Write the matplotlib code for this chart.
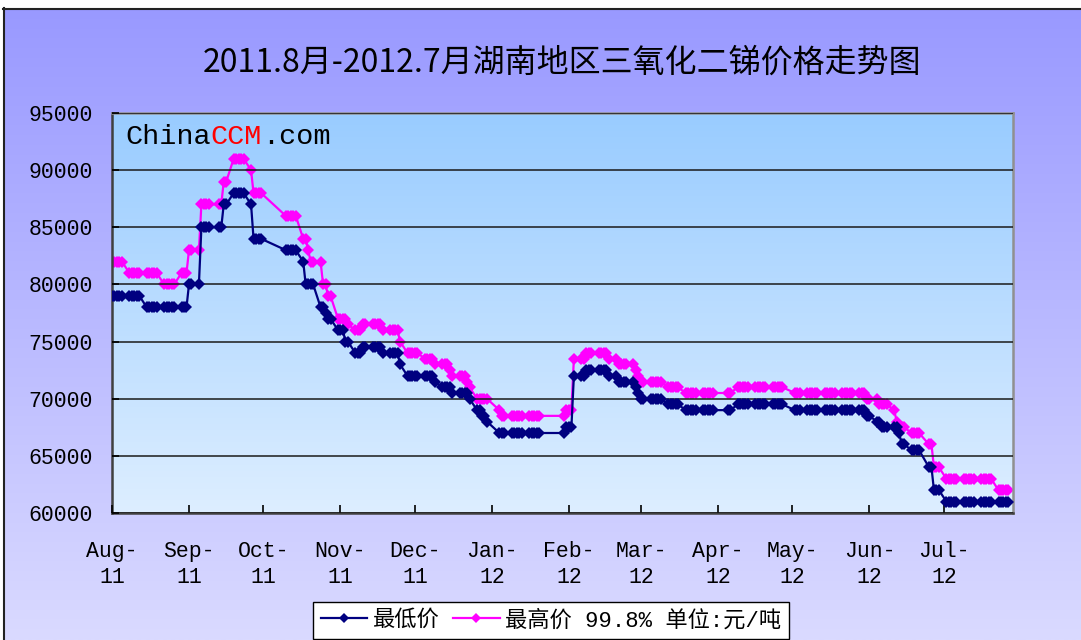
import numpy as np
import pandas as pd
import matplotlib
matplotlib.use("Agg")
import matplotlib.pyplot as plt
import matplotlib.dates as mdates
from matplotlib.patches import Rectangle
import datetime as dt

# ---------------- data ----------------
title = "2011.8月-2012.7月湖南地区三氧化二锑价格走势图"
series_names = ["最低价", "最高价 99.8% 单位:元/吨"]
month_labels = ["Aug-\n11", "Sep-\n11", "Oct-\n11", "Nov-\n11", "Dec-\n11", "Jan-\n12",
                "Feb-\n12", "Mar-\n12", "Apr-\n12", "May-\n12", "Jun-\n12", "Jul-\n12"]
y_ticks = [60000, 65000, 70000, 75000, 80000, 85000, 90000, 95000]

# non-trading holidays (no quotes)
holidays = ["2011-09-12", "2011-10-03", "2011-10-04", "2011-10-05", "2011-10-06", "2011-10-07",
            "2012-01-02", "2012-01-03", "2012-01-23", "2012-01-24", "2012-01-25", "2012-01-26",
            "2012-01-27", "2012-04-02", "2012-04-03", "2012-04-04", "2012-04-30", "2012-05-01",
            "2012-06-22"]

# price in effect from each date (step series)
low_dates = ["2011-08-01", "2011-08-15", "2011-09-01", "2011-09-06", "2011-09-15", "2011-09-19",
             "2011-09-26", "2011-09-27", "2011-10-10", "2011-10-17", "2011-10-18", "2011-10-24",
             "2011-10-26", "2011-10-27", "2011-10-31", "2011-11-03", "2011-11-07", "2011-11-10",
             "2011-11-18", "2011-11-25", "2011-11-28", "2011-12-09", "2011-12-12", "2011-12-16",
             "2011-12-23", "2011-12-26", "2011-12-28", "2011-12-30", "2012-01-04", "2012-01-31",
             "2012-02-03", "2012-02-08", "2012-02-17", "2012-02-21", "2012-02-28", "2012-02-29",
             "2012-03-01", "2012-03-12", "2012-03-19", "2012-04-09", "2012-05-02", "2012-05-31",
             "2012-06-04", "2012-06-06", "2012-06-13", "2012-06-14", "2012-06-18", "2012-06-25",
             "2012-06-27", "2012-07-02"]
low_values = [79000, 78000, 80000, 85000, 87000, 88000,
              87000, 84000, 83000, 82000, 80000, 78000,
              77500, 77000, 76000, 75000, 74000, 74500,
              74000, 73000, 72000, 71500, 71000, 70500,
              70000, 69000, 68500, 68000, 67000, 67500,
              72000, 72500, 72000, 71500, 71000, 70500,
              70000, 69500, 69000, 69500, 69000, 68500,
              68000, 67500, 67000, 66000, 65500, 64000,
              62000, 61000]

high_dates = ["2011-08-01", "2011-08-08", "2011-08-22", "2011-08-29", "2011-09-01", "2011-09-06",
              "2011-09-15", "2011-09-19", "2011-09-26", "2011-09-27", "2011-10-10", "2011-10-17",
              "2011-10-19", "2011-10-20", "2011-10-25", "2011-10-27", "2011-10-31", "2011-11-04",
              "2011-11-07", "2011-11-10", "2011-11-18", "2011-11-25", "2011-11-28", "2011-12-05",
              "2011-12-09", "2011-12-15", "2011-12-16", "2011-12-22", "2011-12-23", "2011-12-26",
              "2012-01-04", "2012-01-05", "2012-01-31", "2012-02-03", "2012-02-08", "2012-02-17",
              "2012-02-21", "2012-02-28", "2012-02-29", "2012-03-01", "2012-03-12", "2012-03-19",
              "2012-04-09", "2012-05-02", "2012-05-31", "2012-06-05", "2012-06-11", "2012-06-12",
              "2012-06-13", "2012-06-18", "2012-06-25", "2012-06-27", "2012-07-02", "2012-07-23"]
high_values = [82000, 81000, 80000, 81000, 83000, 87000,
               89000, 91000, 90000, 88000, 86000, 84000,
               83000, 82000, 80000, 79000, 77000, 76500,
               76000, 76500, 76000, 75000, 74000, 73500,
               73000, 72500, 72000, 71500, 71000, 70000,
               69000, 68500, 69000, 73500, 74000, 73500,
               73000, 72500, 72000, 71500, 71000, 70500,
               71000, 70500, 70000, 69500, 69000, 68000,
               67500, 67000, 66000, 64000, 63000, 62000]

# ---------------- build daily series ----------------
days = pd.bdate_range("2011-08-01", "2012-07-27")
days = days[~days.isin(pd.to_datetime(holidays))]
low = pd.Series(low_values, index=pd.to_datetime(low_dates)).reindex(days, method="ffill")
high = pd.Series(high_values, index=pd.to_datetime(high_dates)).reindex(days, method="ffill")

# ---------------- figure ----------------
W, H = 1081, 640
fig = plt.figure(figsize=(W / 100, H / 100), dpi=100)

# background with gradient
bg = fig.add_axes([0, 0, 1, 1], zorder=-10)
bg.axis("off")
grad = np.linspace(0, 1, 256).reshape(-1, 1)
c_top = np.array([0x99, 0x99, 0xFF]) / 255
c_bot = np.array([0xDA, 0xDA, 0xFF]) / 255
img = c_top[None, None, :] * (1 - grad[:, :, None]) + c_bot[None, None, :] * grad[:, :, None]
bg.imshow(img, extent=(3, W, H, 8), aspect="auto", interpolation="bilinear")
bg.add_patch(Rectangle((0, 0), W, 8, facecolor="white", edgecolor="none"))
bg.plot([3, W], [8.5, 8.5], color="#222222", lw=1.5)
bg.plot([3.5, 3.5], [8, H], color="#222222", lw=1.5)
bg.set_xlim(0, W)
bg.set_ylim(H, 0)

# plot area
L, R, T, B = 112, 1013, 113, 513
ax = fig.add_axes([L / W, 1 - B / H, (R - L) / W, (B - T) / H])
ax.set_facecolor("none")
pgrad = np.linspace(0, 1, 256).reshape(-1, 1)
p_top = np.array([0x99, 0xCC, 0xFF]) / 255
p_bot = np.array([0xDD, 0xEE, 0xFF]) / 255
pimg = p_top[None, None, :] * (1 - pgrad[:, :, None]) + p_bot[None, None, :] * pgrad[:, :, None]
ax.imshow(pimg, extent=(0, 1, 0, 1), transform=ax.transAxes, aspect="auto",
          interpolation="bilinear", zorder=0)

ax.plot(days, low.values, color="#000080", lw=1.6, marker="D", ms=6,
        markeredgewidth=0, label=series_names[0], zorder=3)
ax.plot(days, high.values, color="#FF00FF", lw=1.6, marker="D", ms=6,
        markeredgewidth=0, label=series_names[1], zorder=2)

ax.set_ylim(60000, 95000)
ax.set_xlim(dt.datetime(2011, 8, 1), dt.datetime(2012, 7, 28, 20))
ax.set_yticks(y_ticks)
ax.set_yticklabels([str(v) for v in y_ticks], family="Liberation Mono", fontsize=15.5)
ax.yaxis.grid(True, color="#1a1a1a", lw=1.1, zorder=1)
ax.set_axisbelow(False)
for gl in ax.get_ygridlines():
    gl.set_zorder(1)

month_ticks = pd.date_range("2011-08-01", "2012-07-01", freq="MS")
ax.set_xticks(month_ticks)
ax.set_xticklabels(month_labels, family="Liberation Mono", fontsize=15.5, linespacing=1.35)
ax.tick_params(axis="x", direction="in", length=6, width=1.2, pad=20, colors="black")
ax.tick_params(axis="y", direction="in", length=5, width=1.2, pad=14, colors="black")

for s in ["left", "bottom"]:
    ax.spines[s].set_color("#404040")
    ax.spines[s].set_linewidth(1.8)
for s in ["top", "right"]:
    ax.spines[s].set_color("#909090")
    ax.spines[s].set_linewidth(1.8)

# watermark text
t1 = ax.text(0.0144, 0.94, "China", transform=ax.transAxes, family="Liberation Mono",
             fontsize=20.5, color="black", va="center", ha="left", zorder=5)
t2 = ax.annotate("CCM", xycoords=t1, xy=(1, 0.5), va="center", ha="left",
                 family="Liberation Mono", fontsize=20.5, color="#FF0000", zorder=5)
t3 = ax.annotate(".com", xycoords=t2, xy=(1, 0.5), va="center", ha="left",
                 family="Liberation Mono", fontsize=20.5, color="black", zorder=5)

# title
fig.text(562 / W, 1 - 63 / H, title, ha="center", va="center", fontsize=23,
         family=["Noto Sans CJK SC", "DejaVu Sans"])

# legend
leg = fig.legend(loc="upper left", bbox_to_anchor=(313 / W, 1 - 602 / H),
                 bbox_transform=fig.transFigure, ncol=2, frameon=True, fancybox=False,
                 shadow=False,
                 prop={"family": ["Liberation Mono", "Noto Sans CJK SC"], "size": 16},
                 handlelength=2.1, handletextpad=0.25, columnspacing=0.6, borderpad=0.35,
                 borderaxespad=0, markerscale=0.9)
leg.get_frame().set_edgecolor("black")
leg.get_frame().set_linewidth(1.0)
leg.get_frame().set_facecolor("white")
leg.get_frame().set_alpha(1)

fig.savefig("out.png", dpi=100)
